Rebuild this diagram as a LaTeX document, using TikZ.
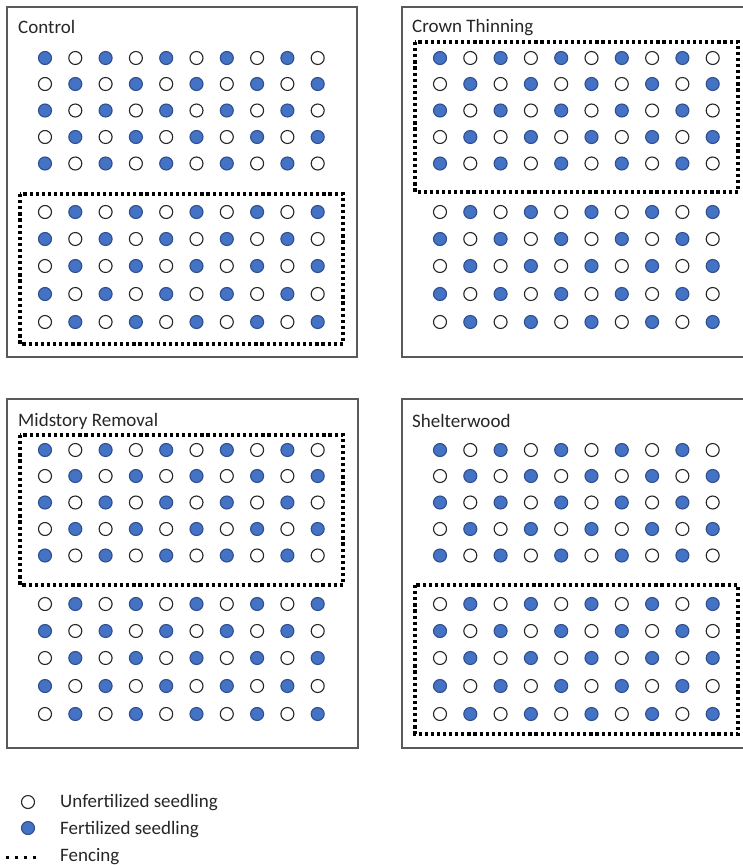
\documentclass[tikz,border=0pt]{standalone}
\usepackage{fontspec}
\setmainfont{Carlito}
\definecolor{fertblue}{HTML}{4472C4}
\definecolor{fertedge}{HTML}{2F4F8F}
\definecolor{boxgray}{HTML}{595959}
\begin{document}
\begin{tikzpicture}[x=1pt,y=-1pt,
  panel/.style={draw=boxgray,line width=1.3pt},
  fence/.style={draw=black,line width=3.2pt,dash pattern=on 3.2pt off 2.9pt},
  legfence/.style={draw=black,line width=3pt,dash pattern=on 3pt off 6pt},
  fert/.style={circle,draw=fertedge,fill=fertblue,line width=1.1pt,minimum size=13pt,inner sep=0pt},
  unfert/.style={circle,draw=black!85,fill=white,line width=1.1pt,minimum size=13pt,inner sep=0pt},
  ptitle/.style={anchor=base west,font=\fontsize{19}{22}\selectfont,inner sep=0pt,text=black!85},
]
\path[use as bounding box] (0,0) rectangle (743,865);
\clip (0,0) rectangle (743,865);

% panel frames
\draw[panel] (7,7) rectangle (357,357);
\draw[panel] (402,7) rectangle (770,357);
\draw[panel] (7,399) rectangle (358,748);
\draw[panel] (402,399) rectangle (770,748);

% titles
\node[ptitle] (tctl) at (18,33) {Control};
\node[ptitle] (tcrown) at (412,32) {Crown Thinning};
\node[ptitle] (tmid) at (18,426) {Midstory Removal};
\node[ptitle] (tshel) at (412,427) {Shelterwood};

% fencing
\draw[fence] (20,194) rectangle (343,344);
\draw[fence] (415,42) rectangle (738,192);
\draw[fence] (20,435) rectangle (343,585);
\draw[fence] (415,585) rectangle (738,734);

% seedlings
\foreach \name/\px/\py in {ctl/7/7, crown/402/7, mid/7/399, shel/402/399}{
  \foreach \r/\dy in {0/51,1/77,2/103.5,3/130,4/156.5,5/205,6/232,7/259,8/287,9/315}{
    \foreach \c in {0,...,9}{
      \pgfmathtruncatemacro{\parity}{mod(\r+\c,2)}
      \ifnum\parity=0
        \node[fert] (\name-\r-\c) at ({\px+38+30.3*\c},{\py+\dy}) {};
      \else
        \node[unfert] (\name-\r-\c) at ({\px+38+30.3*\c},{\py+\dy}) {};
      \fi
    }
  }
}

% legend
\node[unfert] (legU) at (28,802) {};
\node[fert] (legF) at (28,828) {};
\coordinate (legA) at (5.5,857);
\coordinate (legB) at (35.5,857);
\draw[legfence] (legA) -- (legB);
\node[ptitle] (legUt) at (60,807) {Unfertilized seedling};
\node[ptitle] (legFt) at (60,834) {Fertilized seedling};
\node[ptitle] (legNt) at (60,861) {Fencing};
\end{tikzpicture}
\end{document}
